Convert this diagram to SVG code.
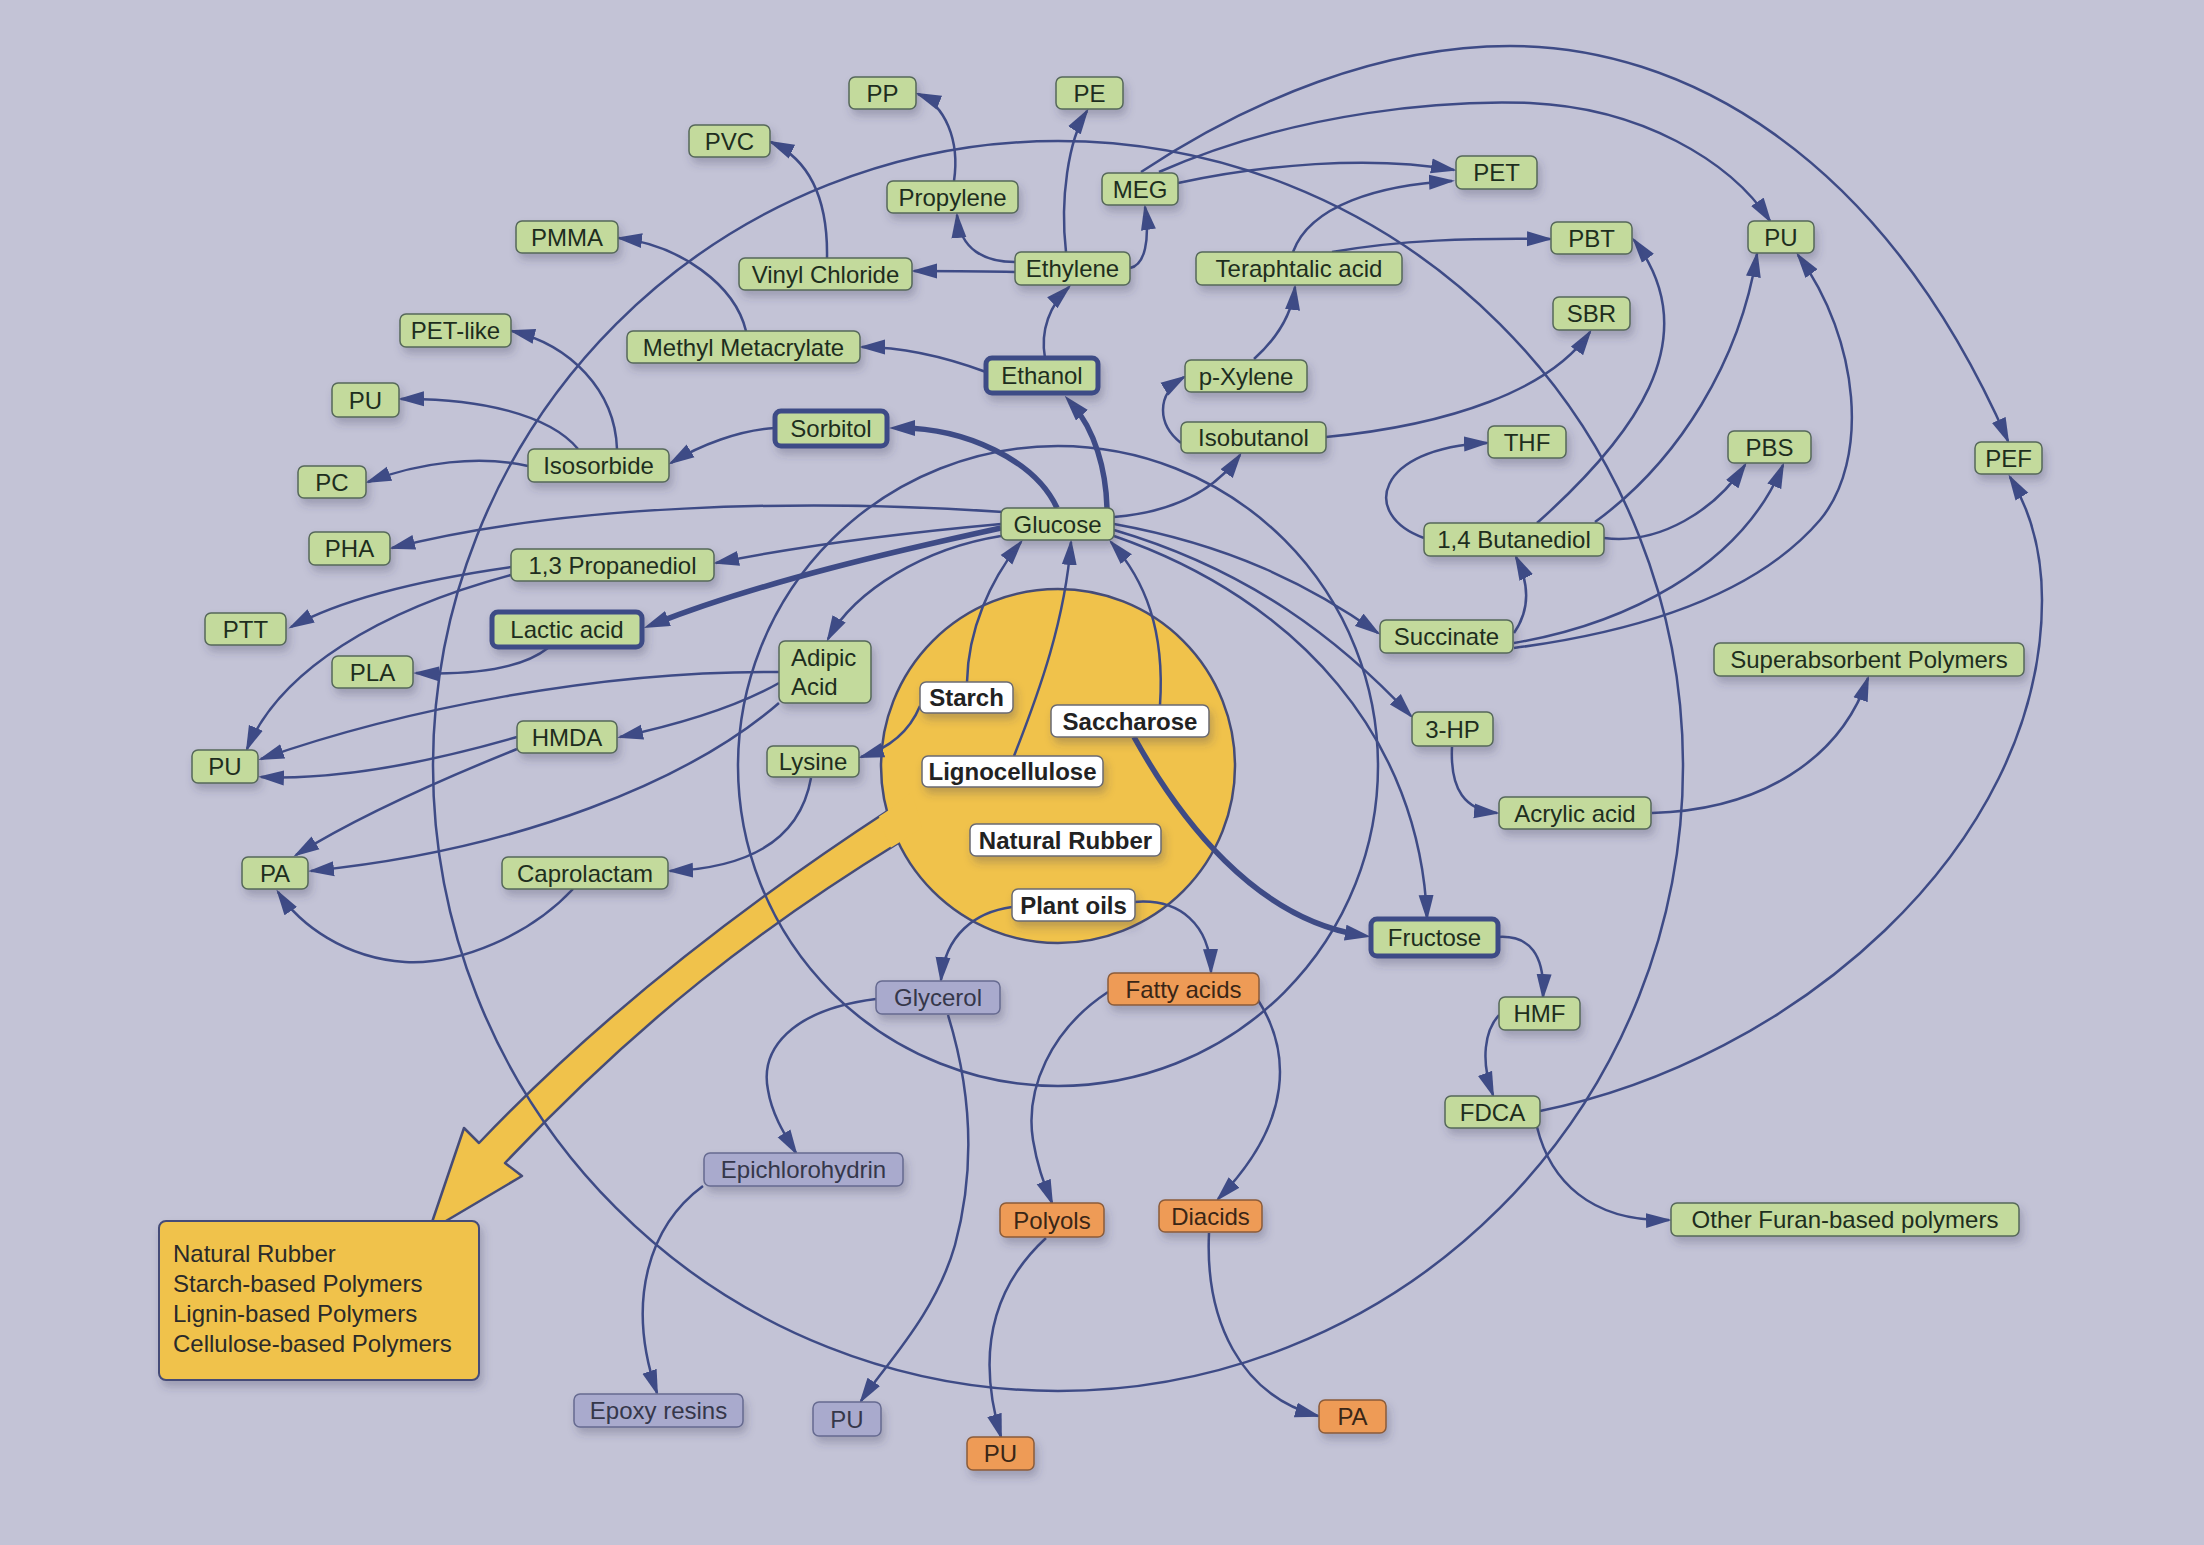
<svg xmlns="http://www.w3.org/2000/svg" width="2204" height="1545" viewBox="0 0 2204 1545">
<defs>
<filter id="sh" x="-20%" y="-40%" width="140%" height="200%"><feDropShadow dx="3" dy="6" stdDeviation="4" flood-color="#3a3a5a" flood-opacity="0.28"/></filter>
<marker id="ah" viewBox="0 0 26 16" refX="23" refY="8" markerWidth="26" markerHeight="16" markerUnits="userSpaceOnUse" orient="auto"><path d="M0,0.5 L26,8 L0,15.5 z" fill="#3e4b86"/></marker>
<marker id="ahk" viewBox="0 0 26 16" refX="15" refY="8" markerWidth="26" markerHeight="16" markerUnits="userSpaceOnUse" orient="auto"><path d="M0,0 L26,8 L0,16 z" fill="#3e4b86"/></marker>
<clipPath id="cc"><circle cx="1058" cy="766" r="186"/></clipPath>
<style>
.n rect{fill:#c3da9c;stroke:#56685a;stroke-width:1.5;filter:url(#sh)}
.n text{font-family:"Liberation Sans",Arial,sans-serif;font-size:24px;fill:#1e2e1e;text-anchor:middle}
.t rect{stroke:#3e4b86;stroke-width:5}
.w rect{fill:#ffffff;stroke:#6a6a72}
.w text{font-weight:bold;fill:#222222}
.g rect{fill:#a9aacd;stroke:#666a90}
.g text{fill:#35374a}
.o rect{fill:#ee9b56;stroke:#8a5c3a}
.o text{fill:#3a2616}
.e{fill:none;stroke:#3e4b86;stroke-width:2.5;marker-end:url(#ah)}
.k{stroke-width:5.5;marker-end:url(#ahk)}
.ring{fill:none;stroke:#3e4b86;stroke-width:2.5}
.yl{font-family:"Liberation Sans",Arial,sans-serif;font-size:24px;fill:#2a2a2a}
</style>
</defs>
<rect x="0" y="0" width="2204" height="1545" fill="#c3c3d6"/>

<g id="source">
<path id="bigarrow" d="M912,792 L889,810 C742,906 600,1016 479,1143 L464,1128 L429,1231 L522,1176 L505,1163 C640,1020 760,928 900,842 L922,828 Z" fill="#f0c24b" stroke="#454c78" stroke-width="2.5" stroke-linejoin="round"/>
<circle cx="1058" cy="766" r="177" fill="#f0c24b" stroke="#454c78" stroke-width="2.5"/>
<path d="M912,792 L889,810 C742,906 600,1016 479,1143 L464,1128 L429,1231 L522,1176 L505,1163 C640,1020 760,928 900,842 L922,828 Z" fill="#f0c24b" clip-path="url(#cc)"/>
</g>

<g id="rings">
<circle class="ring" cx="1058" cy="766" r="320"/>
<circle class="ring" cx="1058" cy="766" r="625"/>
</g>

<g id="connectors">
<path class="e k" d="M1057,508 C1035,460 965,428 900,428"/>
<path class="e k" d="M1107,508 C1106,470 1095,430 1072,404"/>
<path class="e k" d="M1001,528 C900,550 760,582 654,624"/>
<path class="e" d="M1003,512 C800,498 560,505 392,548"/>
<path class="e" d="M1001,524 C880,535 790,548 716,563"/>
<path class="e" d="M1001,536 C925,548 855,590 828,639"/>
<path class="e" d="M1114,517 C1175,512 1215,490 1240,455"/>
<path class="e" d="M1114,524 C1230,545 1310,585 1378,633"/>
<path class="e" d="M1114,530 C1250,570 1340,640 1411,716"/>
<path class="e" d="M1114,536 C1300,600 1420,740 1427,918"/>
<path class="e" d="M775,428 C740,430 700,445 671,463"/>
<path class="e" d="M617,449 C615,390 570,345 512,331"/>
<path class="e" d="M578,449 C550,415 480,398 401,399"/>
<path class="e" d="M528,466 C480,455 420,462 368,482"/>
<path class="e" d="M746,331 C735,285 680,245 619,238"/>
<path class="e" d="M986,372 C940,355 900,347 862,347"/>
<path class="e" d="M1045,358 C1040,330 1050,305 1069,287"/>
<path class="e" d="M1015,262 C985,262 960,250 957,215"/>
<path class="e" d="M1015,272 C980,271 950,271 914,271"/>
<path class="e" d="M1066,252 C1060,200 1068,140 1087,111"/>
<path class="e" d="M1130,268 C1145,265 1150,240 1145,207"/>
<path class="e" d="M954,181 C960,140 945,105 918,94"/>
<path class="e" d="M827,258 C828,200 810,160 771,142"/>
<path class="e" d="M1178,183 C1260,165 1370,155 1454,170"/>
<path class="e" d="M1159,172 C1300,110 1450,100 1530,103 C1640,108 1730,160 1770,221"/>
<path class="e" d="M1141,172 C1250,100 1380,46 1510,46 C1680,46 1880,150 2008,441"/>
<path class="e" d="M1293,252 C1310,205 1380,185 1452,181"/>
<path class="e" d="M1332,252 C1400,240 1470,238 1550,239"/>
<path class="e" d="M1254,359 C1275,340 1292,315 1295,287"/>
<path class="e" d="M1181,443 C1158,425 1155,395 1184,377"/>
<path class="e" d="M1326,437 C1450,425 1550,390 1590,332"/>
<path class="e" d="M1424,538 C1360,515 1375,448 1487,443"/>
<path class="e" d="M1537,523 C1630,440 1710,340 1634,240"/>
<path class="e" d="M1595,522 C1680,460 1740,360 1757,254"/>
<path class="e" d="M1604,538 C1660,545 1715,510 1745,465"/>
<path class="e" d="M1514,633 C1530,610 1530,585 1516,557"/>
<path class="e" d="M1514,643 C1620,625 1740,570 1783,465"/>
<path class="e" d="M1514,648 C1650,630 1760,590 1820,520 C1870,460 1860,340 1798,255"/>
<path class="e" d="M1452,747 C1450,790 1465,810 1497,813"/>
<path class="e" d="M1652,813 C1760,810 1840,760 1868,678"/>
<path class="e" d="M1498,937 C1530,935 1545,955 1543,997"/>
<path class="e" d="M1499,1015 C1485,1030 1480,1060 1493,1095"/>
<path class="e" d="M1540,1111 C1790,1061 2042,850 2042,600 C2042,550 2030,510 2010,477"/>
<path class="e" d="M1537,1127 C1550,1180 1590,1222 1669,1220"/>
<path class="e" d="M1160,705 C1165,630 1145,580 1111,542"/>
<path class="e" d="M1014,756 C1040,690 1065,620 1071,542"/>
<path class="e" d="M967,682 C968,630 990,580 1021,542"/>
<path class="e k" d="M1134,737 C1180,820 1255,918 1360,935"/>
<path class="e" d="M920,706 C910,730 890,748 861,757"/>
<path class="e" d="M811,778 C800,840 750,868 670,871"/>
<path class="e" d="M573,889 C530,935 460,965 405,962 C345,958 300,925 278,892"/>
<path class="e" d="M517,737 C420,765 330,780 261,777"/>
<path class="e" d="M517,749 C440,780 360,815 296,855"/>
<path class="e" d="M779,672 C600,670 400,710 261,759"/>
<path class="e" d="M779,683 C740,705 690,722 620,737"/>
<path class="e" d="M779,703 C690,780 520,850 311,871"/>
<path class="e" d="M511,567 C420,580 340,600 291,627"/>
<path class="e" d="M511,575 C380,610 280,670 247,749"/>
<path class="e" d="M548,648 C520,670 470,675 416,673"/>
<path class="e" d="M1012,907 C975,912 945,935 941,980"/>
<path class="e" d="M1134,902 C1180,898 1210,925 1211,972"/>
<path class="e" d="M876,999 C790,1010 760,1050 768,1090 C772,1115 785,1135 796,1153"/>
<path class="e" d="M948,1015 C968,1080 978,1160 955,1245 C935,1315 885,1365 861,1401"/>
<path class="e" d="M1108,992 C1050,1030 1025,1090 1033,1140 C1038,1170 1045,1185 1052,1203"/>
<path class="e" d="M1258,1000 C1290,1050 1295,1120 1218,1199"/>
<path class="e" d="M1046,1238 C995,1285 975,1350 1001,1437"/>
<path class="e" d="M1209,1233 C1205,1320 1240,1395 1318,1416"/>
<path class="e" d="M703,1186 C650,1225 625,1300 657,1393"/>
</g>

<g id="natural-rubber-box">
<rect x="159" y="1221" width="320" height="159" rx="7" fill="#f0c24b" stroke="#454c78" stroke-width="2" filter="url(#sh)"/>
<text class="yl" x="173" y="1262">Natural Rubber</text>
<text class="yl" x="173" y="1292">Starch-based Polymers</text>
<text class="yl" x="173" y="1322">Lignin-based Polymers</text>
<text class="yl" x="173" y="1352">Cellulose-based Polymers</text>
</g>

<g id="n-pp" class="n"><rect x="849" y="77" width="67" height="32" rx="6"/><text x="882.5" y="101.5">PP</text></g>
<g id="n-pe" class="n"><rect x="1056" y="77" width="67" height="32" rx="6"/><text x="1089.5" y="101.5">PE</text></g>
<g id="n-pvc" class="n"><rect x="689" y="125" width="81" height="32" rx="6"/><text x="729.5" y="149.5">PVC</text></g>
<g id="n-propylene" class="n"><rect x="887" y="181" width="131" height="32" rx="6"/><text x="952.5" y="205.5">Propylene</text></g>
<g id="n-meg" class="n"><rect x="1102" y="173" width="76" height="32" rx="6"/><text x="1140" y="197.5">MEG</text></g>
<g id="n-pet" class="n"><rect x="1456" y="156" width="81" height="33" rx="6"/><text x="1496.5" y="181">PET</text></g>
<g id="n-pmma" class="n"><rect x="516" y="221" width="102" height="32" rx="6"/><text x="567" y="245.5">PMMA</text></g>
<g id="n-vinyl" class="n"><rect x="739" y="258" width="173" height="32" rx="6"/><text x="825.5" y="282.5">Vinyl Chloride</text></g>
<g id="n-ethylene" class="n"><rect x="1015" y="252" width="115" height="33" rx="6"/><text x="1072.5" y="277">Ethylene</text></g>
<g id="n-tera" class="n"><rect x="1196" y="252" width="206" height="33" rx="6"/><text x="1299" y="277">Teraphtalic acid</text></g>
<g id="n-pbt" class="n"><rect x="1551" y="222" width="81" height="32" rx="6"/><text x="1591.5" y="246.5">PBT</text></g>
<g id="n-pu-tr" class="n"><rect x="1748" y="221" width="66" height="32" rx="6"/><text x="1781" y="245.5">PU</text></g>
<g id="n-sbr" class="n"><rect x="1553" y="297" width="77" height="33" rx="6"/><text x="1591.5" y="322">SBR</text></g>
<g id="n-petlike" class="n"><rect x="400" y="314" width="111" height="33" rx="6"/><text x="455.5" y="339">PET-like</text></g>
<g id="n-mma" class="n"><rect x="627" y="331" width="233" height="32" rx="6"/><text x="743.5" y="355.5">Methyl Metacrylate</text></g>
<g id="n-ethanol" class="n t"><rect x="986" y="358" width="112" height="35" rx="6"/><text x="1042" y="384">Ethanol</text></g>
<g id="n-pxylene" class="n"><rect x="1185" y="360" width="122" height="32" rx="6"/><text x="1246" y="384.5">p-Xylene</text></g>
<g id="n-pu-tl" class="n"><rect x="332" y="383" width="67" height="34" rx="6"/><text x="365.5" y="408.5">PU</text></g>
<g id="n-sorbitol" class="n t"><rect x="775" y="411" width="112" height="35" rx="6"/><text x="831" y="437">Sorbitol</text></g>
<g id="n-isobutanol" class="n"><rect x="1181" y="422" width="145" height="31" rx="6"/><text x="1253.5" y="446">Isobutanol</text></g>
<g id="n-thf" class="n"><rect x="1488" y="426" width="78" height="32" rx="6"/><text x="1527" y="450.5">THF</text></g>
<g id="n-pbs" class="n"><rect x="1728" y="431" width="83" height="32" rx="6"/><text x="1769.5" y="455.5">PBS</text></g>
<g id="n-pef" class="n"><rect x="1975" y="442" width="67" height="32" rx="6"/><text x="2008.5" y="466.5">PEF</text></g>
<g id="n-isosorbide" class="n"><rect x="528" y="449" width="141" height="33" rx="6"/><text x="598.5" y="474">Isosorbide</text></g>
<g id="n-pc" class="n"><rect x="298" y="466" width="68" height="32" rx="6"/><text x="332" y="490.5">PC</text></g>
<g id="n-glucose" class="n"><rect x="1001" y="508" width="113" height="32" rx="6"/><text x="1057.5" y="532.5">Glucose</text></g>
<g id="n-bdo" class="n"><rect x="1424" y="523" width="180" height="33" rx="6"/><text x="1514" y="548">1,4 Butanediol</text></g>
<g id="n-pha" class="n"><rect x="309" y="532" width="81" height="33" rx="6"/><text x="349.5" y="557">PHA</text></g>
<g id="n-pdo" class="n"><rect x="511" y="549" width="203" height="32" rx="6"/><text x="612.5" y="573.5">1,3 Propanediol</text></g>
<g id="n-ptt" class="n"><rect x="205" y="613" width="81" height="32" rx="6"/><text x="245.5" y="637.5">PTT</text></g>
<g id="n-lactic" class="n t"><rect x="492" y="612" width="150" height="35" rx="6"/><text x="567" y="638">Lactic acid</text></g>
<g id="n-succinate" class="n"><rect x="1380" y="620" width="133" height="33" rx="6"/><text x="1446.5" y="645">Succinate</text></g>
<g id="n-adipic" class="n"><rect x="779" y="641" width="92" height="62" rx="6"/><text x="791" y="666" style="text-anchor:start">Adipic</text><text x="791" y="695" style="text-anchor:start">Acid</text></g>
<g id="n-sap" class="n"><rect x="1714" y="643" width="310" height="33" rx="6"/><text x="1869" y="668">Superabsorbent Polymers</text></g>
<g id="n-pla" class="n"><rect x="332" y="656" width="81" height="32" rx="6"/><text x="372.5" y="680.5">PLA</text></g>
<g id="n-3hp" class="n"><rect x="1412" y="712" width="81" height="34" rx="6"/><text x="1452.5" y="737.5">3-HP</text></g>
<g id="n-hmda" class="n"><rect x="517" y="721" width="100" height="32" rx="6"/><text x="567" y="745.5">HMDA</text></g>
<g id="n-lysine" class="n"><rect x="767" y="746" width="92" height="31" rx="6"/><text x="813" y="770">Lysine</text></g>
<g id="n-pu-l" class="n"><rect x="192" y="750" width="66" height="33" rx="6"/><text x="225" y="775">PU</text></g>
<g id="n-acrylic" class="n"><rect x="1499" y="797" width="152" height="32" rx="6"/><text x="1575" y="821.5">Acrylic acid</text></g>
<g id="n-pa-l" class="n"><rect x="242" y="857" width="66" height="32" rx="6"/><text x="275" y="881.5">PA</text></g>
<g id="n-caprolactam" class="n"><rect x="502" y="857" width="166" height="32" rx="6"/><text x="585" y="881.5">Caprolactam</text></g>
<g id="n-fructose" class="n t"><rect x="1371" y="919" width="127" height="37" rx="6"/><text x="1434.5" y="946">Fructose</text></g>
<g id="n-hmf" class="n"><rect x="1499" y="997" width="81" height="33" rx="6"/><text x="1539.5" y="1022">HMF</text></g>
<g id="n-fdca" class="n"><rect x="1445" y="1096" width="95" height="32" rx="6"/><text x="1492.5" y="1120.5">FDCA</text></g>
<g id="n-furan" class="n"><rect x="1671" y="1203" width="348" height="33" rx="6"/><text x="1845" y="1228">Other Furan-based polymers</text></g>

<g id="n-starch" class="n w"><rect x="920" y="682" width="93" height="31" rx="6"/><text x="966.5" y="706">Starch</text></g>
<g id="n-saccharose" class="n w"><rect x="1051" y="705" width="158" height="32" rx="6"/><text x="1130" y="729.5">Saccharose</text></g>
<g id="n-ligno" class="n w"><rect x="922" y="756" width="181" height="31" rx="6"/><text x="1012.5" y="780">Lignocellulose</text></g>
<g id="n-natrubber" class="n w"><rect x="970" y="824" width="191" height="32" rx="6"/><text x="1065.5" y="848.5">Natural Rubber</text></g>
<g id="n-plantoils" class="n w"><rect x="1012" y="889" width="123" height="32" rx="6"/><text x="1073.5" y="913.5">Plant oils</text></g>

<g id="n-glycerol" class="n g"><rect x="876" y="981" width="124" height="33" rx="6"/><text x="938" y="1006">Glycerol</text></g>
<g id="n-epi" class="n g"><rect x="704" y="1153" width="199" height="33" rx="6"/><text x="803.5" y="1178">Epichlorohydrin</text></g>
<g id="n-pu-g" class="n g"><rect x="813" y="1402" width="68" height="34" rx="6"/><text x="847" y="1427.5">PU</text></g>
<g id="n-epoxy" class="n g"><rect x="574" y="1394" width="169" height="33" rx="6"/><text x="658.5" y="1419">Epoxy resins</text></g>

<g id="n-fatty" class="n o"><rect x="1108" y="973" width="151" height="32" rx="6"/><text x="1183.5" y="997.5">Fatty acids</text></g>
<g id="n-polyols" class="n o"><rect x="1000" y="1203" width="104" height="34" rx="6"/><text x="1052" y="1228.5">Polyols</text></g>
<g id="n-diacids" class="n o"><rect x="1159" y="1200" width="103" height="32" rx="6"/><text x="1210.5" y="1224.5">Diacids</text></g>
<g id="n-pu-o" class="n o"><rect x="967" y="1437" width="67" height="33" rx="6"/><text x="1000.5" y="1462">PU</text></g>
<g id="n-pa-o" class="n o"><rect x="1319" y="1400" width="67" height="33" rx="6"/><text x="1352.5" y="1425">PA</text></g>
</svg>
